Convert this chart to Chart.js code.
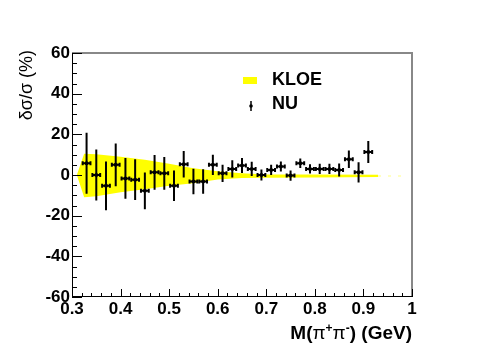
<!DOCTYPE html>
<html>
<head>
<meta charset="utf-8">
<script src="https://cdn.jsdelivr.net/npm/chart.js@4.4.1/dist/chart.umd.min.js"></script>
<style>
  html, body { margin: 0; padding: 0; background: #fff; }
</style>
</head>
<body>
<canvas id="resChart" width="485" height="350"></canvas>
<script>
// NU points (mass in GeV, relative difference in %)
const nuMass = [0.33, 0.35, 0.37, 0.39, 0.41, 0.43, 0.45, 0.47, 0.49, 0.51,
                0.53, 0.55, 0.57, 0.59, 0.61, 0.63, 0.65, 0.67, 0.69, 0.71,
                0.73, 0.75, 0.77, 0.79, 0.81, 0.83, 0.85, 0.87, 0.89, 0.91];
const nuValues = [5.8, 0, -5.3, 5, -1.7, -2.3, -7.8, 1.3, 0.8, -5.3,
                  5.3, -3.2, -3.2, 5, 0.8, 3, 4.7, 3, 0, 2.5,
                  4.2, -0.3, 5.8, 3, 3, 3, 2.5, 7.7, 1.3, 11.3];
const nuErrors = [15, 12.5, 12, 10.5, 10, 10, 9, 8.5, 8, 7.5,
                  6.5, 6.3, 6, 5, 4.3, 4.2, 3.7, 3.5, 2.7, 2.5,
                  2.5, 2.5, 2.3, 2.3, 2.5, 2.5, 3.2, 4.3, 5, 5.4];
const binHalfWidth = 0.008;

// KLOE band
const kloeMass  = [0.31, 0.325, 0.35, 0.40, 0.45, 0.50, 0.55, 0.60, 0.65, 0.70, 0.80, 0.93];
const kloeUpper = [0, 10.5, 10.2, 9, 7.5, 5.5, 3.3, 1.8, 0.8, 0.3, 0.2, 0.1];
const kloeLower = [0, -11, -10.5, -8.5, -7, -5.3, -4, -2.2, -1.5, -1.3, -1.2, -1.0];
const kloeTailMass = [0.93, 0.985];
const kloeTailValues = [-0.5, -0.5];

const xMin = 0.3, xMax = 1.0;
const yMin = -60, yMax = 60;

const toPoints = (xs, ys) => xs.map((x, i) => ({ x: x, y: ys[i] }));

// ROOT-like frame, inner ticks, error bars, titles and legend
const rootStyle = {
    id: 'rootStyle',
    afterDatasetsDraw(chart) {
        const ctx = chart.ctx;
        const xs = chart.scales.x;
        const ys = chart.scales.y;

        // error bars
        ctx.save();
        ctx.strokeStyle = '#000';
        ctx.lineWidth = 2;
        nuMass.forEach((m, i) => {
            const px = xs.getPixelForValue(m);
            const py = ys.getPixelForValue(nuValues[i]);
            const top = ys.getPixelForValue(nuValues[i] + nuErrors[i]);
            const bot = ys.getPixelForValue(nuValues[i] - nuErrors[i]);
            const left = xs.getPixelForValue(m - binHalfWidth);
            const right = xs.getPixelForValue(m + binHalfWidth);
            ctx.beginPath();
            ctx.moveTo(px, top); ctx.lineTo(px, bot);
            ctx.moveTo(left, py); ctx.lineTo(right, py);
            ctx.moveTo(left, py - 2); ctx.lineTo(left, py + 2);
            ctx.moveTo(right, py - 2); ctx.lineTo(right, py + 2);
            ctx.stroke();
        });
        ctx.restore();
    },
    afterDraw(chart) {
        const ctx = chart.ctx;
        const area = chart.chartArea;
        const xs = chart.scales.x;
        const ys = chart.scales.y;

        ctx.save();
        // top / right frame
        ctx.strokeStyle = '#888';
        ctx.lineWidth = 2;
        ctx.beginPath();
        ctx.moveTo(area.left, area.top); ctx.lineTo(area.right, area.top);
        ctx.lineTo(area.right, area.bottom);
        ctx.stroke();

        // axes
        ctx.strokeStyle = '#000';
        ctx.lineWidth = 1;
        ctx.beginPath();
        ctx.moveTo(area.left + 0.5, area.top); ctx.lineTo(area.left + 0.5, area.bottom);
        ctx.moveTo(area.left, area.bottom - 0.5); ctx.lineTo(area.right, area.bottom - 0.5);

        for (let v = yMin; v <= yMax; v += 5) {
            const py = Math.round(ys.getPixelForValue(v)) + 0.5;
            const len = (v % 20 === 0) ? 10 : 5;
            ctx.moveTo(area.left, py); ctx.lineTo(area.left + len, py);
        }
        for (let k = 0; k <= 35; k++) {
            const v = xMin + k * 0.02;
            const px = Math.round(xs.getPixelForValue(v)) + 0.5;
            const len = (k % 5 === 0) ? 8 : 4;
            ctx.moveTo(px, area.bottom); ctx.lineTo(px, area.bottom - len);
        }
        ctx.stroke();

        // y title
        ctx.fillStyle = '#000';
        ctx.save();
        ctx.translate(27, area.top - 3);
        ctx.rotate(-Math.PI / 2);
        ctx.font = '18px "Liberation Sans", Arial, sans-serif';
        ctx.textAlign = 'right';
        ctx.textBaseline = 'middle';
        ctx.fillText('δσ/σ (%)', 0, 0);
        ctx.restore();

        // x title with superscripts
        const parts = [
            { t: 'M(', f: 'bold 19px "Liberation Sans", Arial', dy: 0 },
            { t: 'π', f: '19px "Liberation Sans", Arial', dy: 0 },
            { t: '+', f: 'bold 12px "Liberation Sans", Arial', dy: -7 },
            { t: 'π', f: '19px "Liberation Sans", Arial', dy: 0 },
            { t: '-', f: 'bold 12px "Liberation Sans", Arial', dy: -7 },
            { t: ') (GeV)', f: 'bold 19px "Liberation Sans", Arial', dy: 0 }
        ];
        let total = 0;
        parts.forEach(p => { ctx.font = p.f; p.w = ctx.measureText(p.t).width; total += p.w; });
        let cx = area.right - total;
        ctx.textAlign = 'left';
        ctx.textBaseline = 'alphabetic';
        parts.forEach(p => { ctx.font = p.f; ctx.fillText(p.t, cx, 339 + p.dy); cx += p.w; });

        // legend
        ctx.fillStyle = '#ffff00';
        ctx.fillRect(243, 77, 14, 7);
        ctx.strokeStyle = '#000';
        ctx.lineWidth = 1.5;
        ctx.beginPath();
        ctx.moveTo(251, 101); ctx.lineTo(251, 111);
        ctx.stroke();
        ctx.fillStyle = '#000';
        ctx.beginPath();
        ctx.arc(251, 106, 1.8, 0, Math.PI * 2);
        ctx.fill();
        ctx.font = 'bold 18px "Liberation Sans", Arial, sans-serif';
        ctx.textBaseline = 'middle';
        ctx.fillText('KLOE', 272, 80);
        ctx.fillText('NU', 272, 104);
        ctx.restore();
    }
};

const tickFont = { family: '"Liberation Sans", Arial, sans-serif', size: 17, weight: 'bold' };

new Chart(document.getElementById('resChart'), {
    type: 'line',
    data: {
        datasets: [
            {
                label: 'NU',
                data: toPoints(nuMass, nuValues),
                showLine: false,
                pointRadius: 2,
                pointBackgroundColor: '#000',
                pointBorderWidth: 0
            },
            {
                label: 'KLOE tail',
                data: toPoints(kloeTailMass, kloeTailValues),
                borderColor: 'rgba(255,255,80,0.35)',
                borderWidth: 2,
                borderDash: [3, 7],
                pointRadius: 0,
                fill: false
            },
            {
                label: 'KLOE',
                data: toPoints(kloeMass, kloeUpper),
                borderWidth: 0,
                borderColor: '#ffff00',
                backgroundColor: '#ffff00',
                pointRadius: 0,
                tension: 0,
                fill: '+1'
            },
            {
                label: 'KLOE low',
                data: toPoints(kloeMass, kloeLower),
                borderWidth: 0,
                borderColor: '#ffff00',
                pointRadius: 0,
                tension: 0,
                fill: false
            }
        ]
    },
    options: {
        responsive: false,
        animation: false,
        layout: { padding: { top: 53, right: 73, left: 0, bottom: 0 } },
        plugins: {
            legend: { display: false },
            tooltip: { enabled: false }
        },
        scales: {
            x: {
                type: 'linear',
                min: xMin,
                max: xMax,
                grid: { display: false, drawTicks: false },
                border: { display: false },
                afterFit: (s) => { s.height = 53; },
                ticks: {
                    stepSize: 0.1,
                    padding: 2,
                    color: '#000',
                    font: tickFont,
                    maxRotation: 0,
                    callback: (v) => String(Number(v.toFixed(1)))
                }
            },
            y: {
                min: yMin,
                max: yMax,
                grid: { display: false, drawTicks: false },
                border: { display: false },
                afterFit: (s) => { s.width = 72; },
                ticks: {
                    stepSize: 20,
                    padding: 2,
                    color: '#000',
                    font: tickFont
                }
            }
        }
    },
    plugins: [rootStyle]
});
</script>
</body>
</html>
